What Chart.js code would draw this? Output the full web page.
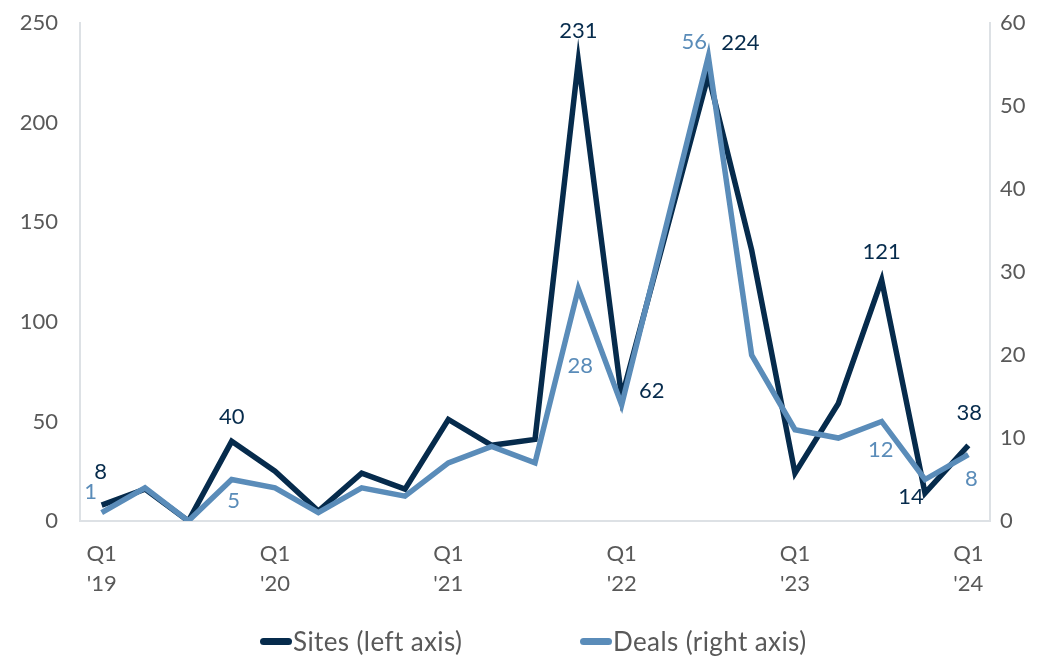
<!DOCTYPE html>
<html>
<head>
<meta charset="utf-8">
<script src="https://cdn.jsdelivr.net/npm/chart.js@4.4.1/dist/chart.umd.min.js"></script>
<style>
  html, body { margin: 0; padding: 0; background: #fff; overflow: hidden; }
  #wrap { position: relative; width: 1043px; height: 658px; overflow: hidden; }
  #chart { position: absolute; left: 0; top: -12px; }
  #legend {
    position: absolute; left: 0; top: 626px; width: 1043px; height: 30px;
    font-family: Lato, sans-serif; font-size: 26px; letter-spacing: 0.4px; color: #595959;
  }
  .item { position: absolute; top: 0; display: flex; align-items: center; height: 30px; white-space: nowrap; }
  .swatch { width: 32px; height: 7px; border-radius: 4px; margin-right: 1px; }
</style>
</head>
<body>
<div id="wrap">
  <canvas id="chart" width="1043" height="670"></canvas>
  <div id="legend">
    <div class="item" style="left:260px"><span class="swatch" style="background:#062b4c"></span>Sites (left axis)</div>
    <div class="item" style="left:580px"><span class="swatch" style="background:#5a8cb9"></span>Deals (right axis)</div>
  </div>
</div>
<script>
const quarters = [
  "Q1 '19", "Q2 '19", "Q3 '19", "Q4 '19",
  "Q1 '20", "Q2 '20", "Q3 '20", "Q4 '20",
  "Q1 '21", "Q2 '21", "Q3 '21", "Q4 '21",
  "Q1 '22", "Q2 '22", "Q3 '22", "Q4 '22",
  "Q1 '23", "Q2 '23", "Q3 '23", "Q4 '23",
  "Q1 '24"
];
const sites = [8, 16, 0, 40, 25, 5, 24, 16, 51, 38, 41, 231, 62, 143, 224, 136, 24, 59, 121, 14, 38];
const deals = [1, 4, 0, 5, 4, 1, 4, 3, 7, 9, 7, 28, 14, 35, 56, 20, 11, 10, 12, 5, 8];
const leftTicks = [0, 50, 100, 150, 200, 250];
const rightTicks = [0, 10, 20, 30, 40, 50, 60];

const DARK = "#062b4c";
const LIGHT = "#5a8cb9";
const GREY = "#595959";
const FONT = "Lato, sans-serif";

// which points carry a value label, and where it sits relative to the point
const siteLabels = { 0: [-1, -33], 3: [0, -24], 11: [0, -30], 12: [30, -7], 14: [32, -32], 18: [0, -28], 19: [-14, 4], 20: [1, -32] };
const dealLabels = { 0: [-11, -21], 3: [2, 21], 11: [2, 77], 14: [-14, -14], 18: [-1, 28], 20: [3, 24] };

const pointLabels = {
  id: "pointLabels",
  afterDatasetsDraw(chart) {
    const ctx = chart.ctx;
    ctx.save();
    ctx.font = "22px " + FONT;
    ctx.textAlign = "center";
    ctx.textBaseline = "middle";
    chart.data.datasets.forEach((ds, di) => {
      const meta = chart.getDatasetMeta(di);
      const offs = ds.label.startsWith("Sites") ? siteLabels : dealLabels;
      ctx.fillStyle = ds.borderColor;
      Object.keys(offs).forEach(k => {
        const p = meta.data[k];
        const [dx, dy] = offs[k];
        ctx.fillText(String(ds.data[k]), p.x + dx, p.y + dy);
      });
    });
    ctx.restore();
  }
};

new Chart(document.getElementById("chart"), {
  type: "line",
  data: {
    labels: quarters,
    datasets: [
      {
        label: "Sites (left axis)",
        data: sites,
        yAxisID: "y",
        borderColor: DARK,
        borderWidth: 5.5,
        pointRadius: 0,
        tension: 0,
        order: 2
      },
      {
        label: "Deals (right axis)",
        data: deals,
        yAxisID: "y1",
        borderColor: LIGHT,
        borderWidth: 5.5,
        pointRadius: 0,
        tension: 0,
        order: 1
      }
    ]
  },
  options: {
    responsive: false,
    animation: false,
    layout: { padding: { top: 10, bottom: 58, left: 0, right: 0 } },
    plugins: {
      legend: { display: false },
      tooltip: { enabled: false }
    },
    scales: {
      x: {
        offset: true,
        grid: { display: false, drawTicks: false },
        border: { display: true, color: "#dde1e5", width: 2 },
        afterFit: s => { s.height = 79; },
        ticks: {
          autoSkip: false,
          maxRotation: 0,
          padding: 18,
          color: GREY,
          font: { family: FONT, size: 22, lineHeight: 1.36 },
          callback: (v, i) => i % 4 === 0 ? quarters[i].split(" ") : ""
        }
      },
      y: {
        position: "left",
        min: 0,
        max: 250,
        afterFit: s => { s.width = 80; },
        afterBuildTicks: s => { s.ticks = leftTicks.map(v => ({ value: v })); },
        grid: { display: false, drawTicks: false },
        border: { display: true, color: "#dde1e5", width: 2 },
        ticks: { padding: 22, color: GREY, font: { family: FONT, size: 22 } }
      },
      y1: {
        position: "right",
        min: 0,
        max: 60,
        afterFit: s => { s.width = 53; },
        afterBuildTicks: s => { s.ticks = rightTicks.map(v => ({ value: v })); },
        grid: { display: false, drawTicks: false },
        border: { display: true, color: "#dde1e5", width: 2 },
        ticks: { padding: 10, color: GREY, font: { family: FONT, size: 22 } }
      }
    }
  },
  plugins: [pointLabels]
});
</script>
</body>
</html>
